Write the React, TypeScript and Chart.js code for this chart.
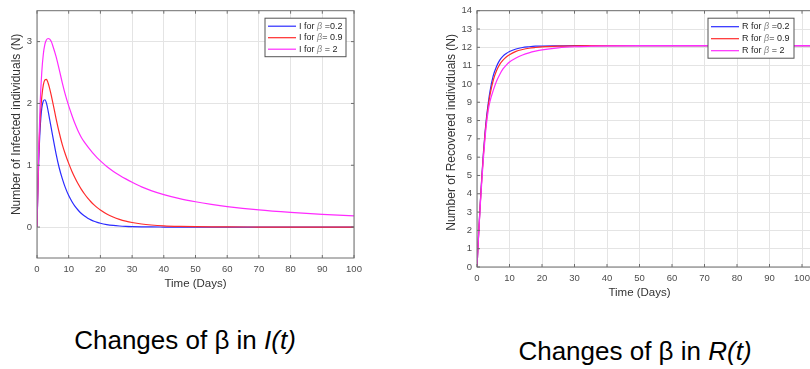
import React, { useEffect, useRef } from "react";
import { Chart, registerables } from "chart.js";

Chart.register(...registerables);

// ---------- data ----------
const T_I = [0, 0.5, 1, 1.5, 2, 2.5, 3, 3.5, 4, 4.5, 5, 6, 7, 8, 9, 10, 11, 12, 13, 14, 15, 16, 17, 18, 19, 20, 22, 24, 26, 28, 30, 33, 36, 40, 45, 50, 55, 60, 70, 80, 90, 100];
const I_BETA_02 = [0, 1.0, 1.6, 1.92, 2.04, 2.06, 2.0, 1.88, 1.74, 1.6, 1.46, 1.19, 0.96, 0.78, 0.63, 0.51, 0.415, 0.335, 0.272, 0.22, 0.178, 0.144, 0.117, 0.095, 0.077, 0.062, 0.041, 0.027, 0.018, 0.012, 0.008, 0.004, 0.002, 0.001, 0, 0, 0, 0, 0, 0, 0, 0];
const I_BETA_09 = [0, 1.1, 1.75, 2.1, 2.3, 2.38, 2.39, 2.33, 2.24, 2.13, 2.01, 1.76, 1.53, 1.33, 1.17, 1.03, 0.905, 0.795, 0.697, 0.61, 0.535, 0.468, 0.41, 0.36, 0.315, 0.276, 0.212, 0.163, 0.125, 0.096, 0.074, 0.05, 0.034, 0.02, 0.011, 0.006, 0.003, 0.002, 0.001, 0, 0, 0];
const I_BETA_2 = [0, 1.2, 2.0, 2.5, 2.8, 2.96, 3.03, 3.05, 3.04, 3.0, 2.93, 2.76, 2.55, 2.33, 2.13, 1.96, 1.81, 1.67, 1.55, 1.45, 1.37, 1.3, 1.235, 1.175, 1.12, 1.07, 0.98, 0.905, 0.84, 0.78, 0.725, 0.65, 0.59, 0.525, 0.46, 0.41, 0.368, 0.332, 0.277, 0.237, 0.205, 0.18];

const T_R = [0, 0.5, 1, 1.5, 2, 2.5, 3, 3.5, 4, 5, 6, 7, 8, 9, 10, 12, 14, 16, 18, 20, 25, 30, 35, 40, 50, 60, 70, 80, 90, 100, 105];
const R_BETA_02 = [0, 1.8, 3.5, 5.0, 6.3, 7.4, 8.3, 9.0, 9.6, 10.45, 10.95, 11.3, 11.52, 11.66, 11.77, 11.91, 11.99, 12.03, 12.06, 12.07, 12.08, 12.09, 12.09, 12.09, 12.09, 12.09, 12.09, 12.09, 12.09, 12.09, 12.09];
const R_BETA_09 = [0, 1.8, 3.45, 4.9, 6.2, 7.3, 8.15, 8.85, 9.4, 10.2, 10.72, 11.07, 11.3, 11.47, 11.6, 11.78, 11.88, 11.95, 11.99, 12.02, 12.06, 12.08, 12.09, 12.09, 12.09, 12.09, 12.09, 12.09, 12.09, 12.09, 12.09];
const R_BETA_2 = [0, 1.75, 3.35, 4.75, 6.0, 7.1, 7.95, 8.6, 9.05, 9.65, 10.15, 10.52, 10.82, 11.03, 11.2, 11.42, 11.58, 11.7, 11.79, 11.86, 11.97, 12.03, 12.06, 12.08, 12.09, 12.09, 12.09, 12.09, 12.09, 12.09, 12.09];

const X_TICKS = [0, 10, 20, 30, 40, 50, 60, 70, 80, 90, 100];
const I_Y_TICKS = [0, 1, 2, 3];
const R_Y_TICKS = [0, 1, 2, 3, 4, 5, 6, 7, 8, 9, 10, 11, 12, 13, 14];

const I_LABELS = ["I for β =0.2", "I for β= 0.9", "I for β = 2"];
const R_LABELS = ["R for β =0.2", "R for β= 0.9", "R for β = 2"];

const X_TITLE = "Time (Days)";
const I_Y_TITLE = "Number of Infected individuals (N)";
const R_Y_TITLE = "Number of Recovered individuals (N)";

const COLORS = ["#2b2bff", "#ff2b2b", "#ff2bff"];

// ---------- styles ----------
const FAMILY = '"Liberation Sans", Arial, Helvetica, sans-serif';
const GRID = "#e4e4e4";
const FRAME = "#6e6e6e";
const TICK_TEXT = "#4d4d4d";
const TITLE_TEXT = "#333333";

type PanelOpts = {
  t: number[];
  series: number[][];
  labels: string[];
  yTicks: number[];
  yMin: number;
  yMax: number;
  xMax: number;
  yAxisWidth: number;
  xAxisHeight: number;
  padRight: number;
  yTitle: string;
  yTitleGap: number;
  yTitleShift: number;
  legendW: number;
  legendH: number;
  rowY: number[];
};

function makePlugin(p: PanelOpts) {
  return {
    id: "matlabAxes",
    afterDraw(chart: any) {
      const { ctx, chartArea: a } = chart;
      const xs = chart.scales.x;
      const ys = chart.scales.y;
      ctx.save();
      // inner tick marks + frame
      ctx.strokeStyle = FRAME;
      ctx.lineWidth = 1;
      ctx.beginPath();
      for (const v of X_TICKS) {
        const px = xs.getPixelForValue(v);
        ctx.moveTo(px, a.bottom);
        ctx.lineTo(px, a.bottom - 3);
        ctx.moveTo(px, a.top);
        ctx.lineTo(px, a.top + 3);
      }
      for (const v of p.yTicks) {
        const py = ys.getPixelForValue(v);
        ctx.moveTo(a.left, py);
        ctx.lineTo(a.left + 3, py);
        ctx.moveTo(a.right, py);
        ctx.lineTo(a.right - 3, py);
      }
      ctx.stroke();
      ctx.strokeRect(a.left, a.top, a.right - a.left, a.bottom - a.top);

      // axis titles
      ctx.fillStyle = TITLE_TEXT;
      ctx.textAlign = "center";
      ctx.textBaseline = "middle";
      ctx.font = `11.5px ${FAMILY}`;
      const xc = (xs.getPixelForValue(0) + xs.getPixelForValue(100)) / 2;
      ctx.fillText(X_TITLE, xc, a.bottom + 25.5);
      ctx.save();
      ctx.translate(a.left - p.yTitleGap, (a.top + a.bottom) / 2 + p.yTitleShift);
      ctx.rotate(-Math.PI / 2);
      ctx.font = `12px ${FAMILY}`;
      ctx.fillText(p.yTitle, 0, 0);
      ctx.restore();

      // legend
      const right = xs.getPixelForValue(100) - 8;
      const left = right - p.legendW;
      const top = a.top + 7.5;
      ctx.fillStyle = "#ffffff";
      ctx.fillRect(left, top, p.legendW, p.legendH);
      ctx.strokeStyle = "#555555";
      ctx.lineWidth = 1;
      ctx.strokeRect(left, top, p.legendW, p.legendH);
      chart.data.datasets.forEach((ds: any, i: number) => {
        const y = top + p.rowY[i];
        ctx.strokeStyle = ds.borderColor;
        ctx.lineWidth = 1.2;
        ctx.beginPath();
        ctx.moveTo(left + 3, y);
        ctx.lineTo(left + 31, y);
        ctx.stroke();
        const parts = String(ds.label).split("β");
        let x = left + 34;
        ctx.textAlign = "left";
        ctx.textBaseline = "middle";
        ctx.font = `9px ${FAMILY}`;
        ctx.fillStyle = "#262626";
        ctx.fillText(parts[0], x, y);
        x += ctx.measureText(parts[0]).width;
        ctx.font = `italic 9px ${FAMILY}`;
        ctx.fillStyle = "#8a8a8a";
        ctx.fillText("β", x, y);
        x += ctx.measureText("β").width;
        ctx.font = `9px ${FAMILY}`;
        ctx.fillStyle = "#262626";
        ctx.fillText(parts[1] ?? "", x, y);
      });
      ctx.restore();
    },
  };
}

function makeConfig(p: PanelOpts): any {
  const tickFont = { family: FAMILY, size: 9.5 };
  return {
    type: "line",
    data: {
      datasets: p.series.map((s, i) => ({
        label: p.labels[i],
        data: p.t.map((t, k) => ({ x: t, y: s[k] })),
        borderColor: COLORS[i],
        backgroundColor: COLORS[i],
        borderWidth: 1.2,
        pointRadius: 0,
        fill: false,
        cubicInterpolationMode: "monotone",
        order: 3 - i,
      })),
    },
    options: {
      responsive: false,
      animation: false,
      devicePixelRatio: 1,
      events: [],
      layout: { padding: { top: 8, right: p.padRight, left: 0, bottom: 0 } },
      plugins: { legend: { display: false }, tooltip: { enabled: false } },
      scales: {
        x: {
          type: "linear",
          min: 0,
          max: p.xMax,
          afterBuildTicks: (s: any) => {
            s.ticks = X_TICKS.map((v) => ({ value: v }));
          },
          afterFit: (s: any) => {
            s.height = p.xAxisHeight;
          },
          grid: { color: GRID, drawTicks: false, lineWidth: 1 },
          border: { display: false },
          ticks: { padding: 6, color: TICK_TEXT, font: tickFont, maxRotation: 0, autoSkip: false },
        },
        y: {
          type: "linear",
          min: p.yMin,
          max: p.yMax,
          afterBuildTicks: (s: any) => {
            s.ticks = p.yTicks.map((v) => ({ value: v }));
          },
          afterFit: (s: any) => {
            s.width = p.yAxisWidth;
          },
          grid: { color: GRID, drawTicks: false, lineWidth: 1 },
          border: { display: false },
          ticks: { padding: 5, color: TICK_TEXT, font: tickFont, autoSkip: false },
        },
      },
    },
    plugins: [makePlugin(p)],
  };
}

const LEFT_PANEL: PanelOpts = {
  t: T_I,
  series: [I_BETA_02, I_BETA_09, I_BETA_2],
  labels: I_LABELS,
  yTicks: I_Y_TICKS,
  yMin: -0.5,
  yMax: 3.5,
  xMax: 100,
  yAxisWidth: 37,
  xAxisHeight: 42,
  padRight: 46,
  yTitle: I_Y_TITLE,
  yTitleGap: 20,
  yTitleShift: -10,
  legendW: 81,
  legendH: 38.5,
  rowY: [8, 19.5, 31],
};

const RIGHT_PANEL: PanelOpts = {
  t: T_R,
  series: [R_BETA_02, R_BETA_09, R_BETA_2],
  labels: R_LABELS,
  yTicks: R_Y_TICKS,
  yMin: 0,
  yMax: 14,
  xMax: 105,
  yAxisWidth: 77,
  xAxisHeight: 33,
  padRight: 11.75,
  yTitle: R_Y_TITLE,
  yTitleGap: 25,
  yTitleShift: -6.5,
  legendW: 86,
  legendH: 40,
  rowY: [8.5, 20.5, 32.5],
};

export default function App() {
  const leftRef = useRef<HTMLCanvasElement>(null);
  const rightRef = useRef<HTMLCanvasElement>(null);

  useEffect(() => {
    const c1 = new Chart(leftRef.current as HTMLCanvasElement, makeConfig(LEFT_PANEL));
    const c2 = new Chart(rightRef.current as HTMLCanvasElement, makeConfig(RIGHT_PANEL));
    return () => {
      c1.destroy();
      c2.destroy();
    };
  }, []);

  const captionStyle: React.CSSProperties = {
    position: "absolute",
    transform: "translateX(-50%)",
    fontFamily: FAMILY,
    fontSize: 26,
    lineHeight: "27px",
    whiteSpace: "nowrap",
    color: "#000",
  };

  return (
    <div
      style={{
        position: "absolute",
        left: 0,
        top: 0,
        width: 810,
        height: 369,
        overflow: "hidden",
        background: "#fff",
      }}
    >
      <canvas
        ref={leftRef}
        width={400}
        height={300}
        style={{ position: "absolute", left: 0, top: 0, width: 400, height: 300 }}
      />
      <canvas
        ref={rightRef}
        width={430}
        height={300}
        style={{ position: "absolute", left: 400, top: 0, width: 430, height: 300 }}
      />
      <div style={{ ...captionStyle, left: 185, top: 327 }}>
        Changes of β in <i>I(t)</i>
      </div>
      <div style={{ ...captionStyle, left: 635, top: 338 }}>
        Changes of β in <i>R(t)</i>
      </div>
    </div>
  );
}
